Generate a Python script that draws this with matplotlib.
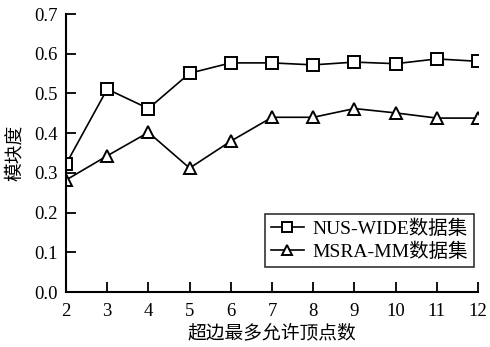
import matplotlib
matplotlib.use("Agg")
import matplotlib.pyplot as plt

x = [2, 3, 4, 5, 6, 7, 8, 9, 10, 11, 12]
nus_wide = [0.322, 0.511, 0.462, 0.551, 0.577, 0.577, 0.572, 0.579, 0.575, 0.587, 0.581]
msra_mm = [0.282, 0.343, 0.402, 0.312, 0.380, 0.440, 0.440, 0.462, 0.451, 0.438, 0.438]
labels = ["NUS-WIDE数据集", "MSRA-MM数据集"]
xlabel = "超边最多允许顶点数"
ylabel = "模块度"

plt.rcParams['font.family'] = ['Liberation Serif', 'Noto Sans CJK SC']
plt.rcParams['font.size'] = 13

fig = plt.figure(figsize=(4.9, 3.47), dpi=100)
ax = fig.add_axes([0.1347, 0.1585, 0.841, 0.801])

ax.plot(x, nus_wide, color='black', lw=1.2, marker='s', ms=9, mfc='white', mec='black', mew=1.4, label=labels[0])
ax.plot(x, msra_mm, color='black', lw=1.2, marker='^', ms=9, mfc='white', mec='black', mew=1.4, label=labels[1])

ax.set_xlim(2, 12)
ax.set_ylim(0, 0.7)
ax.set_xticks(x)
ax.set_yticks([0.0, 0.1, 0.2, 0.3, 0.4, 0.5, 0.6, 0.7])
ax.set_yticklabels([f"{v:.1f}" for v in [0.0, 0.1, 0.2, 0.3, 0.4, 0.5, 0.6, 0.7]])
for s in ['top', 'right']:
    ax.spines[s].set_visible(False)
for s in ['left', 'bottom']:
    ax.spines[s].set_linewidth(1.5)
ax.tick_params(direction='in', length=7, width=1.3, labelsize=13.5)
ax.tick_params(axis='x', pad=8)
ax.tick_params(axis='y', pad=6)
ax.set_xlabel(xlabel, fontsize=13.5, labelpad=3)
ax.set_ylabel(ylabel, fontsize=13.5, labelpad=7)

leg = ax.legend(loc='lower right', bbox_to_anchor=(0.99, 0.09), frameon=True, fancybox=False,
                edgecolor='black', fontsize=14, handlelength=1.7, borderpad=0.3,
                labelspacing=0.25, handletextpad=0.45, borderaxespad=0.0, markerscale=0.8)
leg.get_frame().set_linewidth(1.2)

fig.savefig("out.png", dpi=100)
